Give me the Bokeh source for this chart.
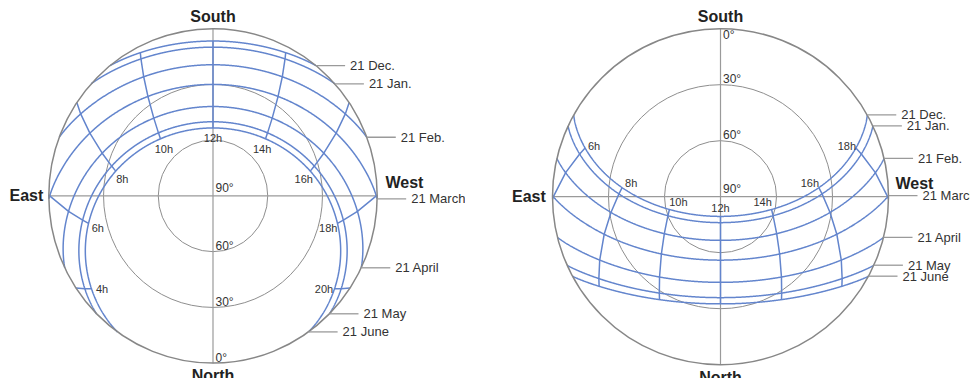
import numpy as np
from bokeh.plotting import figure
from bokeh.layouts import row
from bokeh.models import Range1d, Spacer
from bokeh.core.properties import value
from bokeh.embed import file_html
from bokeh.resources import INLINE

# ---------------- data ----------------
date_labels = ["21 Dec.", "21 Jan.", "21 Feb.", "21 March", "21 April", "21 May", "21 June"]
declinations = [-23.44, -20.1, -10.6, 0.0, 11.9, 20.1, 23.44]   # solar declination (deg) on each date
left_latitude = 60.0      # northern site
right_latitude = -34.0    # southern site
left_hours = [4, 6, 8, 10, 12, 14, 16, 18, 20]
right_hours = [6, 8, 10, 12, 14, 16, 18]
ring_altitudes = [0, 30, 60, 90]
ring_labels = ["0°", "30°", "60°", "90°"]
cardinal_labels = ["South", "North", "East", "West"]

# ---------------- style / layout ----------------
FONT = value("Liberation Sans")
BLUE = "#6385cd"
FIG_H = 378

left_cfg = dict(width=465, cx=212.5, cy=195.4, sx=164.2, sy=167.3, lat=left_latitude,
                hours=left_hours, side=-1, mode="extend", east_gap=5.5, west_gap=8.3)
right_cfg = dict(width=480, cx=230.0, cy=196.2, sx=168.0, sy=168.0, lat=right_latitude,
                 hours=right_hours, side=1, mode="offset", east_gap=6.7, west_gap=7.0)


def refraction(h):
    hh = np.maximum(h, -1.5)
    return 1.02 / np.tan(np.radians(hh + 10.3 / (hh + 5.11))) / 60.0


def apparent_alt(lat, dec, H):
    phi, d, ha = np.radians(lat), np.radians(dec), np.radians(H)
    u = np.sin(d) * np.sin(phi) + np.cos(d) * np.cos(ha) * np.cos(phi)
    h = np.degrees(np.arcsin(np.clip(u, -1, 1)))
    return h + refraction(h)


def project(lat, dec, H):
    phi, d, ha = np.radians(lat), np.radians(dec), np.radians(H)
    e = -np.cos(d) * np.sin(ha)
    n = np.sin(d) * np.cos(phi) - np.cos(d) * np.cos(ha) * np.sin(phi)
    az = np.arctan2(e, n)
    rho = (90.0 - apparent_alt(lat, dec, H)) / 90.0
    return -rho * np.sin(az), -rho * np.cos(az)


def bisect(f, a, b, n=60):
    fa = f(a)
    for _ in range(n):
        m = 0.5 * (a + b)
        fm = f(m)
        if (fm >= 0) == (fa >= 0):
            a, fa = m, fm
        else:
            b = m
    return 0.5 * (a + b)


def draw(cfg):
    sx, sy, W = cfg["sx"], cfg["sy"], cfg["width"]
    lat = cfg["lat"]
    p = figure(width=W, height=FIG_H,
               x_range=Range1d(-cfg["cx"] / sx, (W - cfg["cx"]) / sx),
               y_range=Range1d(-(FIG_H - cfg["cy"]) / sy, cfg["cy"] / sy),
               output_backend="svg", toolbar_location=None,
               x_axis_type=None, y_axis_type=None, min_border=0)
    p.outline_line_color = None
    p.background_fill_color = "white"
    p.border_fill_color = "white"

    # rings and axes
    inner = [a for a in ring_altitudes if 0 < a < 90]
    p.ellipse(x=[0] * len(inner), y=[0] * len(inner),
              width=[2 * (90 - a) / 90 for a in inner], height=[2 * (90 - a) / 90 for a in inner],
              fill_color=None, line_color="#8e8e8e", line_width=1)
    p.segment(x0=[-1, 0], y0=[0, -1], x1=[1, 0], y1=[0, 1], line_color="#9a9a9a", line_width=1.2)

    # date curves + leaders
    xs, ys = [], []
    lx, ly = [], []
    for dec in declinations:
        H0 = bisect(lambda H: apparent_alt(lat, dec, H), 0.0, 180.0)
        Hs = np.linspace(-H0, H0, 801)
        x, y = project(lat, dec, Hs)
        xs.append(list(x)); ys.append(list(y))
        x0, y0 = project(lat, dec, H0)
        lx.append(float(x0)); ly.append(float(y0))
    p.multi_line(xs=xs, ys=ys, line_color=BLUE, line_width=1.5)

    # hour lines
    order = list(reversed(declinations)) if lat > 0 else list(declinations)
    hxs, hys, tx, ty, tt = [], [], [], [], []
    for hr in cfg["hours"]:
        H = (hr - 12) * 15.0
        pts = []
        for d in order:
            if apparent_alt(lat, d, H) >= 0:
                pts.append(d)
            else:
                if pts:
                    pts.append(bisect(lambda dd: apparent_alt(lat, dd, H), pts[-1], d))
                break
        if len(pts) < 2:
            continue
        x, y = project(lat, np.array(pts), H)
        hxs.append(list(x)); hys.append(list(y))
        if cfg["mode"] == "extend":
            vx, vy = (x[0] - x[1]) * sx, (y[0] - y[1]) * sy
            L = np.hypot(vx, vy)
            tx.append(x[0] + 10.5 * vx / L / sx)
            ty.append(y[0] + 10.5 * vy / L / sy)
        else:
            sgn = 0 if hr == 12 else (1 if hr < 12 else -1)
            tx.append(x[0] + sgn * 9 / sx)
            ty.append(y[0] + (2 + 6 * np.cos(np.radians(H))) / sy)
        tt.append(f"{hr}h")
    p.multi_line(xs=hxs, ys=hys, line_color=BLUE, line_width=1.5)

    # outer ring
    p.ellipse(x=[0], y=[0], width=[2], height=[2], fill_color=None, line_color="#878787", line_width=1.5)

    p.text(x=tx, y=ty, text=tt, text_font=FONT, text_font_size="11px", text_color="#333333",
           text_align="center", text_baseline="middle")

    # leaders + date labels
    p.segment(x0=lx, y0=ly, x1=[v + 29 / sx for v in lx], y1=ly, line_color="#9a9a9a", line_width=1.3)
    p.text(x=[v + 34 / sx for v in lx], y=ly, text=date_labels, text_font=FONT,
           text_font_size="13px", text_color="#333333", text_align="left", text_baseline="middle")

    # ring labels (vertical centre of glyphs a few px from the ring crossing)
    side = cfg["side"]
    rx, ry = [], []
    for a in ring_altitudes:
        rho = (90 - a) / 90
        yy = side * rho
        if side > 0 and rho == 1:
            yy -= 6 / sy
        elif rho == 0:
            yy += 7.5 / sy
        else:
            yy += 5.5 / sy
        rx.append(2.5 / sx); ry.append(yy)
    p.text(x=rx, y=ry, text=ring_labels, text_font=FONT, text_font_size="12px",
           text_color="#333333", text_align="left", text_baseline="middle")

    # cardinal labels
    cx_ = [0, 0, -1 - cfg["east_gap"] / sx, 1 + cfg["west_gap"] / sx]
    cy_ = [1 + 12 / sy, -1 - 12.5 / sy, 0.0, 13.5 / sy]
    aligns = ["center", "center", "right", "left"]
    for i in range(4):
        p.text(x=[cx_[i]], y=[cy_[i]], text=[cardinal_labels[i]], text_font=FONT,
               text_font_size="16px", text_font_style="bold", text_color="#222222",
               text_align=aligns[i], text_baseline="middle")
    return p


p_left = draw(left_cfg)
p_right = draw(right_cfg)
p = row(p_left, Spacer(width=25, height=FIG_H), p_right)

open("out.html", "w").write(file_html(p, INLINE))
